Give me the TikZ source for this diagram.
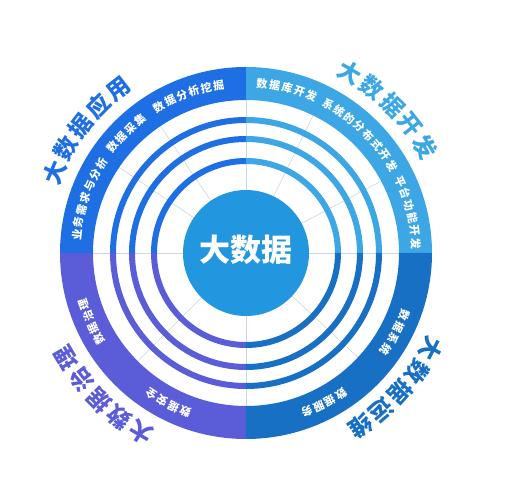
\documentclass[tikz,border=0pt]{standalone}
\usepackage{fontspec}
\setmainfont{Noto Sans CJK SC}
\usepackage{xcolor}
\definecolor{appblue}{HTML}{1E6FE3}
\definecolor{devblue}{HTML}{3CA7E4}
\definecolor{opsblue}{HTML}{1770C3}
\definecolor{govblue}{HTML}{5B5CD8}
\definecolor{coreblue}{HTML}{2396E0}
\definecolor{sepgray}{HTML}{CCD6E4}
\tikzset{
  bandtext/.style={text=white, inner sep=0pt, font=\fontsize{11}{11}\selectfont\bfseries},
  titletext/.style={inner sep=0pt, font=\fontsize{23}{23}\selectfont\bfseries},
  sepline/.style={sepgray, line width=0.6pt}
}

\begin{document}
\begin{tikzpicture}[x=1pt,y=1pt]
            \useasboundingbox (-246,-247) rectangle (268,253);
            % thin lines between the segments
            \foreach \ang in {0,28,64,90,124,146,180,225,270,317}
                \draw[sepline] (\ang:63) -- (\ang:153);
            % quarter rings and outer band
            \foreach \a/\col in {0/devblue,90/appblue,180/govblue,270/opsblue}
                \foreach \ri/\ro in {89/95,111/117,130/136,153/186}
                    \fill[\col] (\a:\ro) arc[start angle=\a, end angle=\a+90, radius=\ro]
                        -- (\a+90:\ri) arc[start angle=\a+90, end angle=\a, radius=\ri] -- cycle;
            \node[circle, fill=coreblue, minimum size=126pt, inner sep=0pt] (core) at (0,0) {};
            \node[text=white, font=\fontsize{31}{31}\selectfont\bfseries] (coretext) at (0,3) {大数据};
            % labels in the band
            \foreach \m/\n/\txt [count=\k] in {110/6/{数,据,分,析,挖,掘}, 135/4/{数,据,采,集},
                    161/7/{业,务,需,求,与,分,析}, 76/5/{数,据,库,开,发},
                    46/8/{系,统,的,分,布,式,开,发}, 14/6/{平,台,功,能,开,发},
                    -28/4/{数,据,系,统}, -62.5/4/{数,据,服,务},
                    204/4/{数,据,治,理}, 242.6/4/{数,据,安,全}}
                \foreach \c [count=\i] in \txt {
                    \pgfmathsetmacro\ang{\m+4.3*((\n+1)/2-\i)}
                    \node[bandtext, rotate=\ang-90] (band\k-\i) at (\ang:170) {\c};
                }
            % titles round the circle
            \foreach \m/\col/\txt [count=\k] in {142.5/appblue/{大,数,据,应,用}, 45.3/devblue/{大,数,据,开,发},
                    -42/opsblue/{大,数,据,运,维}, 225/govblue/{大,数,据,治,理}}
                \foreach \c [count=\i] in \txt {
                    \pgfmathsetmacro\ang{\m+7.3*(3-\i)}
                    \node[titletext, text=\col, rotate=\ang-90] (title\k-\i) at (\ang:208) {\c};
                }
        \end{tikzpicture}
\end{document}
